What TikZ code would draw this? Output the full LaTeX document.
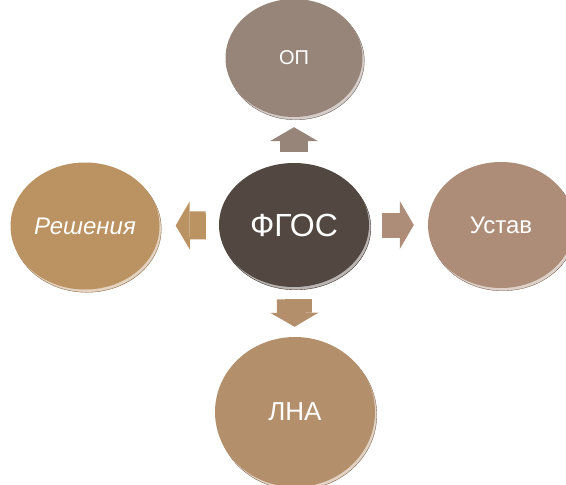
\documentclass[tikz,border=0pt]{standalone}
\usepackage{fontspec}
\setmainfont{Liberation Sans}
\usetikzlibrary{shapes.geometric, arrows.meta}

\definecolor{fgoscol}{HTML}{524741}
\definecolor{opcol}{HTML}{98857A}
\definecolor{ustavcol}{HTML}{AD8D78}
\definecolor{lnacol}{HTML}{B48F6C}
\definecolor{reshcol}{HTML}{BB9262}

\tikzstyle{disc} = [ellipse, inner sep=0pt, text=white]
\tikzset{rim/.style={fill=#1, preaction={fill=#1!40!white, draw=#1!75!black, line width=0.4pt, transform canvas={shift={(1.8pt,-2.8pt)}}}}}
\tikzstyle{blockarrow} = [line width=28pt, -{Triangle[width=48pt,length=14pt,line width=0pt]}]

\begin{document}
\begin{tikzpicture}[x=1pt, y=-1pt]

  \useasboundingbox (0,0) rectangle (566,485);

  % Central node
  \node (fgos) at (294,225) [disc, rim=fgoscol, minimum width=150pt, minimum height=124pt, font=\fontsize{32}{36}\selectfont] {ФГОС};

  % Around the centre
  \node (op) at (294,58) [disc, rim=opcol, minimum width=137pt, minimum height=118pt, font=\fontsize{20}{24}\selectfont] {ОП};
  \node (ustav) at (501,225) [disc, rim=ustavcol, minimum width=146pt, minimum height=126pt, font=\fontsize{24}{28}\selectfont] {Устав};
  \node (lna) at (295,412) [disc, rim=lnacol, minimum width=160pt, minimum height=150pt, font=\fontsize{26}{30}\selectfont] {ЛНА};
  \node (resh) at (85,226) [disc, rim=reshcol, minimum width=149pt, minimum height=127pt, font=\fontsize{24}{28}\selectfont\itshape] {Решения};

  % Arrows from center
  \draw[blockarrow, color=opcol, shorten <=11pt, shorten >=10pt] (fgos) -- (op);
  \draw[blockarrow, color=ustavcol, line width=25pt, shorten <=13pt, shorten >=14pt] (fgos) -- (ustav);
  \draw[blockarrow, color=lnacol, line width=35pt, shorten <=12pt, shorten >=10pt] (fgos) -- (lna);
  \draw[blockarrow, color=reshcol, shorten <=13pt, shorten >=16pt] (fgos) -- (resh);

\end{tikzpicture}
\end{document}
